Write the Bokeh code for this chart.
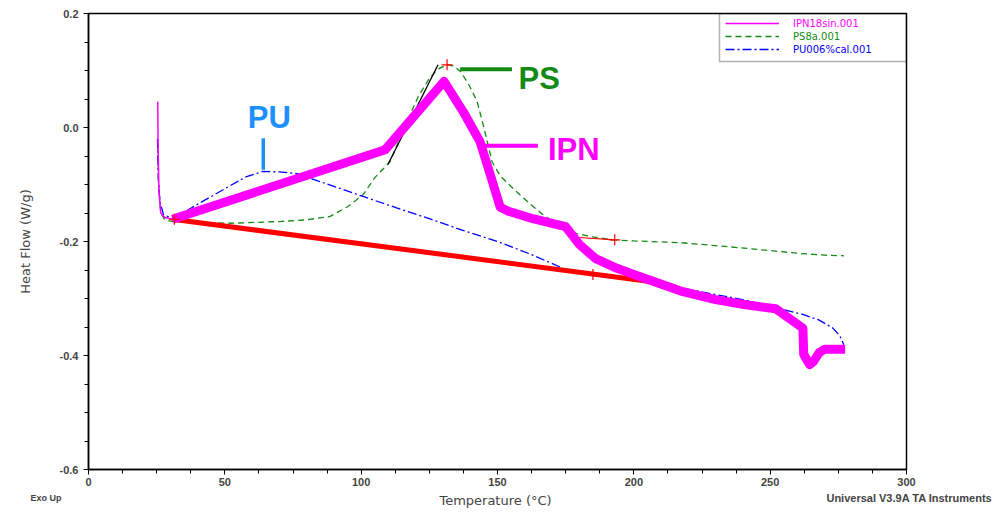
from bokeh.plotting import figure
from bokeh.layouts import column
from bokeh.models import (FixedTicker, PrintfTickFormatter, Legend, LegendItem,
                          BoxAnnotation, Label)
from bokeh.embed import file_html
from bokeh.resources import INLINE

# ---------------- data ----------------
# IPN (magenta): thin initial drop, then thick curve
ipn_init_t = [25.4, 25.5, 25.8, 26.5, 28.0, 30.8]
ipn_init_y = [0.045, -0.02, -0.11, -0.150, -0.158, -0.161]
ipn_t = [30.8, 108.8, 130.4, 137.4, 143.6, 147.3, 151.0, 154.0, 163.0, 170.0,
         175.0, 180.0, 186.0, 193.8, 200.0, 206.0, 218.0, 230.0, 241.0, 252.0,
         257.0, 262.0, 262.3, 264.5, 266.0, 268.0, 270.0, 277.5]
ipn_y = [-0.161, -0.039, 0.081, 0.028, -0.025, -0.082, -0.140, -0.147, -0.160, -0.168,
         -0.174, -0.205, -0.230, -0.247, -0.258, -0.268, -0.288, -0.302, -0.311, -0.318,
         -0.335, -0.352, -0.398, -0.416, -0.410, -0.395, -0.389, -0.389]

# PS (green dashed)
ps_t = [25.4, 25.7, 26.5, 28.0, 31.0, 52.0, 70.0, 80.0, 88.6, 95.0, 100.7, 105.0,
        110.6, 116.8, 121.0, 125.0, 128.0, 131.5, 134.0, 136.5, 139.5, 142.5, 145.0,
        148.0, 151.0, 155.7, 161.0, 166.7, 172.0, 179.0, 185.0, 192.0, 200.0, 217.0,
        239.0, 261.0, 270.0, 277.0]
ps_y = [-0.03, -0.10, -0.150, -0.162, -0.165, -0.168, -0.165, -0.162, -0.156, -0.139,
        -0.118, -0.088, -0.060, 0.010, 0.055, 0.086, 0.102, 0.110, 0.108, 0.098, 0.075,
        0.046, 0.0, -0.06, -0.085, -0.107, -0.130, -0.153, -0.170, -0.186, -0.192,
        -0.197, -0.199, -0.202, -0.211, -0.221, -0.224, -0.225]

# PU (blue dash-dot)
pu_t = [25.3, 25.6, 26.2, 27.5, 31.0, 41.0, 52.0, 58.0, 64.0, 70.0, 76.5, 85.0,
        100.7, 113.0, 125.0, 137.0, 150.0, 162.0, 174.0, 187.5, 200.0, 206.0, 218.0,
        230.0, 241.0, 254.6, 262.0, 268.0, 273.0, 275.5, 277.0]
pu_y = [-0.02, -0.09, -0.13, -0.153, -0.160, -0.132, -0.102, -0.086, -0.077, -0.078,
        -0.081, -0.095, -0.121, -0.141, -0.160, -0.180, -0.200, -0.222, -0.247, -0.261,
        -0.267, -0.270, -0.282, -0.293, -0.303, -0.319, -0.328, -0.338, -0.352, -0.365,
        -0.381]

# analysis marks (red baseline, step, crosses, black tangent)
base_t = [30.8, 206.0]
base_y = [-0.161, -0.270]
step_t = [180.0, 193.0]
step_y = [-0.193, -0.197]
cross_t = [31.5, 131.5, 193.0, 185.0]
cross_y = [-0.161, 0.110, -0.197, -0.258]
tan_t = [109.8, 128.2]
tan_y = [-0.065, 0.110]

# annotations
lbl_text = ["PU", "PS", "IPN"]
lbl_t = [66.3, 165.3, 178.0]
lbl_y = [0.018, 0.086, -0.039]
lbl_col = ["#1e8fff", "#138a13", "#ff00ff"]
pu_mark_t = [64.1, 64.1]
pu_mark_y = [-0.019, -0.074]
ps_mark_t = [136.3, 155.3]
ps_mark_y = [0.102, 0.102]
ipn_mark_t = [144.7, 164.8]
ipn_mark_y = [-0.032, -0.032]

x_ticks = [0, 50, 100, 150, 200, 250, 300]
x_minor = [v * 12.5 for v in range(25)]
y_ticks = [-0.6, -0.4, -0.2, 0.0, 0.2]
y_minor = [round(-0.6 + 0.05 * i, 3) for i in range(17)]

legend_labels = ["IPN18sin.001", "PS8a.001", "PU006%cal.001"]
x_title = "Temperature (°C)"
y_title = "Heat Flow (W/g)"
corner_texts = ["Exo Up", "Universal V3.9A TA Instruments"]

# ---------------- main figure ----------------
MAG = "#ff00ff"
GRN = "#138a13"
BLU = "#0000ff"

p = figure(width=1000, height=490, x_range=(0, 300), y_range=(-0.6, 0.2),
           output_backend="svg", toolbar_location=None,
           min_border_left=88, min_border_right=94, min_border_top=13,
           min_border_bottom=21)
p.xgrid.visible = False
p.ygrid.visible = False
p.outline_line_color = "black"
p.outline_line_width = 1.5
p.background_fill_color = "white"
p.border_fill_color = "white"

p.xaxis.ticker = FixedTicker(ticks=x_ticks, minor_ticks=x_minor)
p.yaxis.ticker = FixedTicker(ticks=y_ticks, minor_ticks=y_minor)
p.yaxis.formatter = PrintfTickFormatter(format="%.1f")
for ax in (p.xaxis, p.yaxis):
    ax.axis_line_width = 1.5
    ax.major_tick_in = 0
    ax.major_tick_out = 5
    ax.minor_tick_in = 0
    ax.minor_tick_out = 4
    ax.major_label_text_font = "Liberation Sans"
    ax.major_label_text_font_style = "bold"
    ax.major_label_text_font_size = "11px"
    ax.axis_label_text_font = "DejaVu Sans"
    ax.axis_label_text_font_style = "normal"
    ax.axis_label_text_font_size = "13px"
p.xaxis.major_label_standoff = 3
p.yaxis.axis_label = y_title
p.yaxis.axis_label_standoff = 24

# curves
r_ps = p.line(ps_t, ps_y, line_color=GRN, line_width=1.3, line_dash="6 4")
r_pu = p.line(pu_t, pu_y, line_color=BLU, line_width=1.3, line_dash="9 3 2 3")
p.line(tan_t, tan_y, line_color="black", line_width=1.3)
p.line(base_t, base_y, line_color="#ff0000", line_width=5)
p.line(step_t, step_y, line_color="#ff0000", line_width=1.2)
r_ipn = p.line(ipn_init_t, ipn_init_y, line_color=MAG, line_width=1.5)
p.line(ipn_t, ipn_y, line_color=MAG, line_width=9, line_join="round")
p.scatter(cross_t, cross_y, marker="cross", size=11, line_color="#ff0000", line_width=1.2)

# annotation marks
p.line(pu_mark_t, pu_mark_y, line_color="#1e8fff", line_width=3.5)
p.line(ps_mark_t, ps_mark_y, line_color=GRN, line_width=4)
p.line(ipn_mark_t, ipn_mark_y, line_color=MAG, line_width=4)
for t, x, y, c in zip(lbl_text, lbl_t, lbl_y, lbl_col):
    p.add_layout(Label(x=x, y=y, text=t, text_color=c, text_font="Liberation Sans",
                       text_font_style="bold", text_font_size="31px",
                       text_align="center", text_baseline="middle"))

# legend (three single-item legends so each label keeps its colour)
leg_cols = [MAG, GRN, BLU]
leg_rens = [r_ipn, r_ps, r_pu]
leg_vy = [440, 427, 414]
for lab, col, ren, vy in zip(legend_labels, leg_cols, leg_rens, leg_vy):
    lg = Legend(items=[LegendItem(label=lab, renderers=[ren])], location=(637, vy),
                border_line_alpha=0, background_fill_alpha=0, padding=0, margin=0,
                spacing=0, glyph_width=54, glyph_height=12, label_height=12,
                label_standoff=14, label_text_font="DejaVu Sans",
                label_text_font_size="10px", label_text_color=col)
    p.add_layout(lg, "center")
p.add_layout(BoxAnnotation(left=631, right=818, top=456, bottom=408,
                           left_units="screen", right_units="screen",
                           top_units="screen", bottom_units="screen",
                           fill_alpha=0, line_color="black", line_width=1.5))

# ---------------- bottom strip with the footer texts ----------------
f = figure(width=1000, height=28, x_range=(0, 1000), y_range=(518, 490),
           x_axis_type=None, y_axis_type=None,
           output_backend="svg", toolbar_location=None,
           min_border_left=0, min_border_right=0, min_border_top=0, min_border_bottom=0)
f.grid.visible = False
f.outline_line_color = None
for fig in (p, f):
    try:
        fig.frame_align = False
    except AttributeError:
        pass
f.add_layout(Label(x=30, y=497, text=corner_texts[0], text_font="Liberation Sans",
                   text_font_style="bold", text_font_size="9px", text_baseline="middle"))
f.add_layout(Label(x=495, y=500, text=x_title, text_font="DejaVu Sans",
                   text_font_size="13px", text_baseline="middle", text_align="center"))
f.add_layout(Label(x=992, y=497, text=corner_texts[1], text_font="Liberation Sans",
                   text_font_style="bold", text_font_size="11px",
                   text_baseline="middle", text_align="right"))

layout = column(p, f, spacing=0)
open("out.html", "w").write(file_html(layout, INLINE))
